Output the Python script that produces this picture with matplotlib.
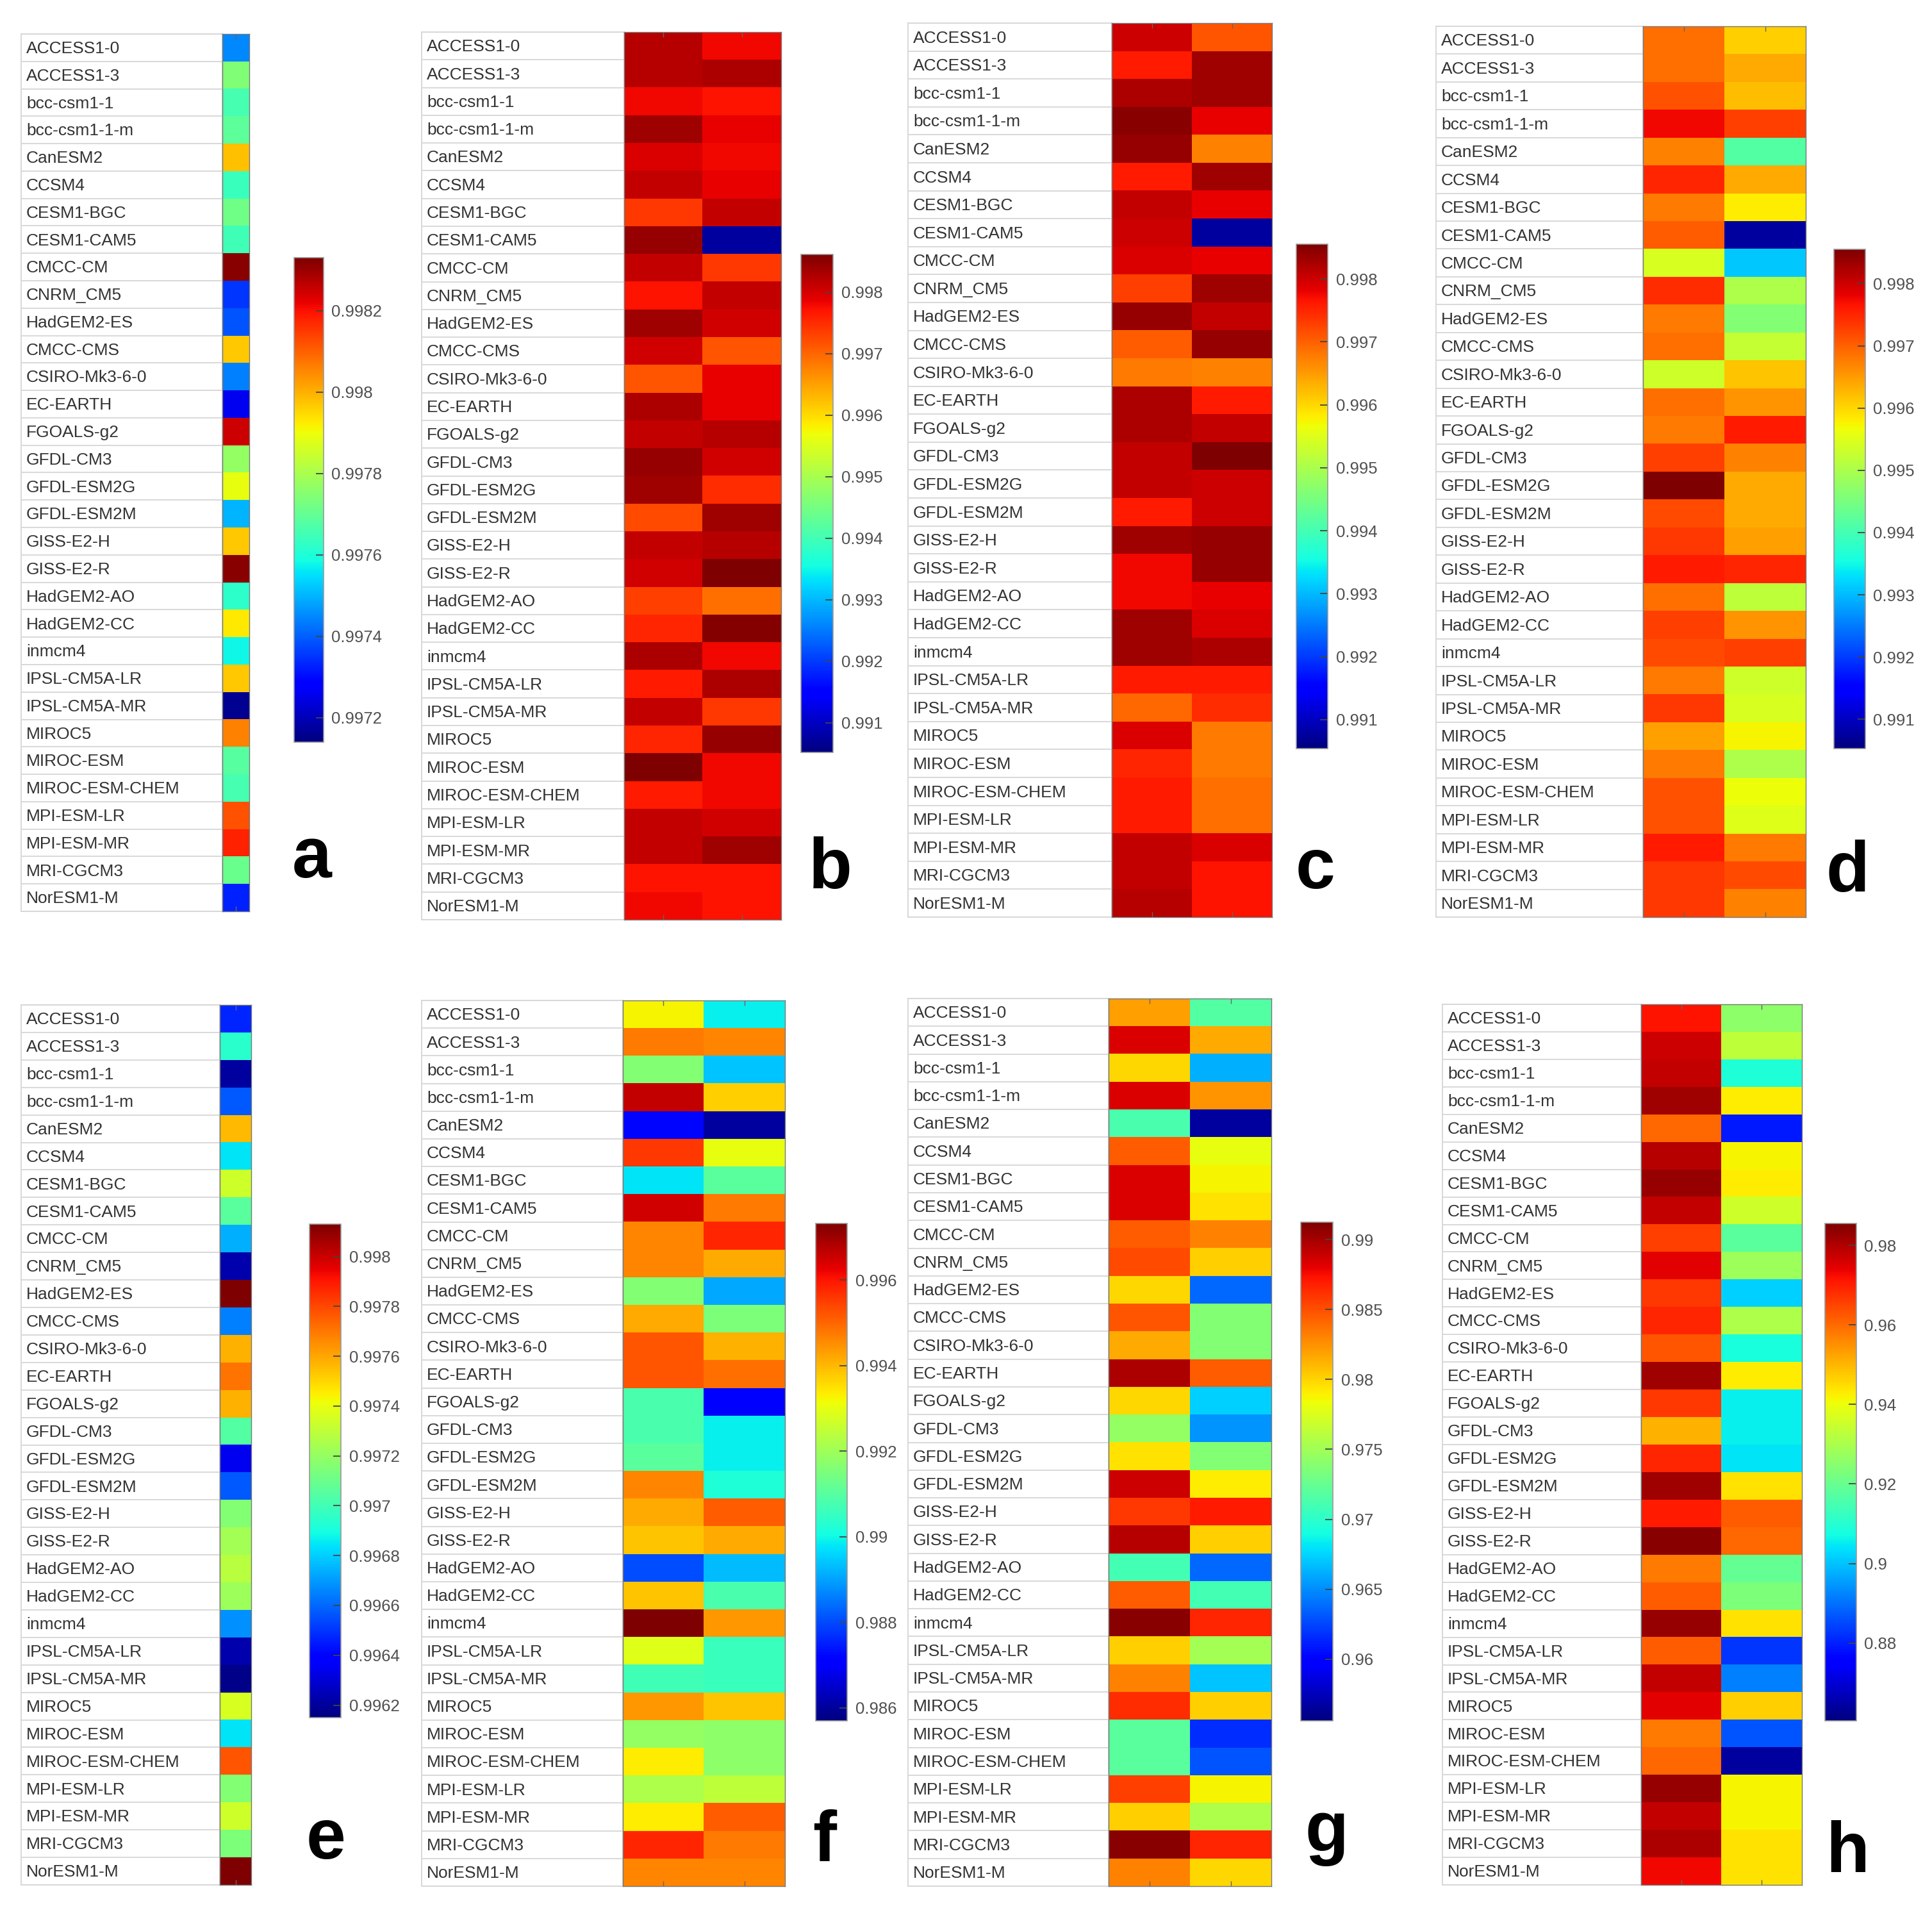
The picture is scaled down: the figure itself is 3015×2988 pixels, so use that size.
import numpy as np
import matplotlib.pyplot as plt

plt.rcParams['font.family'] = ['Liberation Sans', 'DejaVu Sans']

W, H = 3015, 2988

models = ["ACCESS1-0", "ACCESS1-3", "bcc-csm1-1", "bcc-csm1-1-m", "CanESM2", "CCSM4",
          "CESM1-BGC", "CESM1-CAM5", "CMCC-CM", "CNRM_CM5", "HadGEM2-ES", "CMCC-CMS",
          "CSIRO-Mk3-6-0", "EC-EARTH", "FGOALS-g2", "GFDL-CM3", "GFDL-ESM2G", "GFDL-ESM2M",
          "GISS-E2-H", "GISS-E2-R", "HadGEM2-AO", "HadGEM2-CC", "inmcm4", "IPSL-CM5A-LR",
          "IPSL-CM5A-MR", "MIROC5", "MIROC-ESM", "MIROC-ESM-CHEM", "MPI-ESM-LR", "MPI-ESM-MR",
          "MRI-CGCM3", "NorESM1-M"]

panel_a = [0.99745, 0.99774, 0.99766, 0.99769, 0.99798, 0.99764, 0.99772, 0.99765,
           0.99832, 0.99735, 0.99739, 0.99797, 0.99744, 0.99726, 0.99825, 0.99777,
           0.99789, 0.99750, 0.99797, 0.99832, 0.99762, 0.99793, 0.99758, 0.99797,
           0.99716, 0.99806, 0.99768, 0.99766, 0.99812, 0.99818, 0.99771, 0.99733]

panel_b_left = [0.99821, 0.99821, 0.99780, 0.99837, 0.99796, 0.99812, 0.99740, 0.99845,
                0.99812, 0.99772, 0.99837, 0.99804, 0.99715, 0.99829, 0.99812, 0.99845,
                0.99837, 0.99723, 0.99812, 0.99804, 0.99732, 0.99756, 0.99829, 0.99764,
                0.99812, 0.99756, 0.99861, 0.99764, 0.99812, 0.99812, 0.99772, 0.99780]
panel_b_right = [0.99780, 0.99829, 0.99772, 0.99788, 0.99780, 0.99788, 0.99812, 0.99076,
                 0.99740, 0.99812, 0.99804, 0.99715, 0.99788, 0.99788, 0.99821, 0.99804,
                 0.99748, 0.99837, 0.99821, 0.99861, 0.99691, 0.99857, 0.99780, 0.99829,
                 0.99740, 0.99845, 0.99780, 0.99780, 0.99804, 0.99837, 0.99772, 0.99772]

panel_c_left = [0.99799, 0.99759, 0.99823, 0.99847, 0.99839, 0.99759, 0.99807, 0.99799,
                0.99791, 0.99727, 0.99839, 0.99703, 0.99679, 0.99823, 0.99823, 0.99807,
                0.99807, 0.99759, 0.99831, 0.99775, 0.99775, 0.99831, 0.99831, 0.99759,
                0.99695, 0.99791, 0.99751, 0.99759, 0.99759, 0.99807, 0.99807, 0.99815]
panel_c_right = [0.99711, 0.99831, 0.99831, 0.99783, 0.99671, 0.99831, 0.99783, 0.99078,
                 0.99783, 0.99831, 0.99807, 0.99839, 0.99671, 0.99759, 0.99807, 0.99855,
                 0.99799, 0.99799, 0.99839, 0.99839, 0.99783, 0.99791, 0.99823, 0.99759,
                 0.99743, 0.99679, 0.99679, 0.99687, 0.99687, 0.99791, 0.99767, 0.99767]

panel_d_left = [0.99687, 0.99687, 0.99711, 0.99775, 0.99671, 0.99751, 0.99679, 0.99703,
                0.99542, 0.99743, 0.99679, 0.99687, 0.99534, 0.99687, 0.99679, 0.99727,
                0.99855, 0.99719, 0.99735, 0.99759, 0.99687, 0.99727, 0.99719, 0.99679,
                0.99735, 0.99646, 0.99679, 0.99711, 0.99711, 0.99759, 0.99735, 0.99735]
panel_d_right = [0.99606, 0.99638, 0.99622, 0.99727, 0.99414, 0.99638, 0.99582, 0.99077,
                 0.99310, 0.99502, 0.99462, 0.99526, 0.99614, 0.99655, 0.99759, 0.99671,
                 0.99638, 0.99638, 0.99646, 0.99751, 0.99518, 0.99655, 0.99727, 0.99534,
                 0.99542, 0.99574, 0.99502, 0.99566, 0.99550, 0.99679, 0.99719, 0.99671]

panel_e = [0.99647, 0.99694, 0.99621, 0.99657, 0.99756, 0.99684, 0.99734, 0.99706,
           0.99674, 0.99623, 0.99813, 0.99665, 0.99758, 0.99771, 0.99758, 0.99704,
           0.99635, 0.99657, 0.99716, 0.99724, 0.99728, 0.99722, 0.99668, 0.99623,
           0.99617, 0.99736, 0.99684, 0.99777, 0.99716, 0.99734, 0.99714, 0.99813]

panel_f_left = [0.99325, 0.99476, 0.99162, 0.99662, 0.98721, 0.99557, 0.98977, 0.99650,
                0.99464, 0.99464, 0.99162, 0.99418, 0.99522, 0.99522, 0.99081, 0.99081,
                0.99104, 0.99464, 0.99418, 0.99383, 0.98802, 0.99383, 0.99732, 0.99290,
                0.99069, 0.99441, 0.99186, 0.99337, 0.99220, 0.99337, 0.99581, 0.99464]
panel_f_right = [0.98988, 0.99464, 0.98942, 0.99371, 0.98605, 0.99302, 0.99104, 0.99476,
                 0.99581, 0.99418, 0.98907, 0.99151, 0.99406, 0.99488, 0.98698, 0.98988,
                 0.98988, 0.99023, 0.99511, 0.99418, 0.98930, 0.99081, 0.99441, 0.99058,
                 0.99058, 0.99383, 0.99174, 0.99174, 0.99244, 0.99511, 0.99476, 0.99464]

panel_g_left = [0.98197, 0.98839, 0.97983, 0.98839, 0.97128, 0.98447, 0.98839, 0.98839,
                0.98447, 0.98518, 0.97983, 0.98482, 0.98161, 0.98981, 0.97983, 0.97448,
                0.97948, 0.98874, 0.98589, 0.98946, 0.97092, 0.98447, 0.99088, 0.98019,
                0.98304, 0.98625, 0.97199, 0.97199, 0.98554, 0.98019, 0.99088, 0.98304]
panel_g_right = [0.97163, 0.98161, 0.96629, 0.98233, 0.95666, 0.97805, 0.97876, 0.97948,
                 0.98304, 0.98019, 0.96379, 0.97377, 0.97377, 0.98447, 0.96735, 0.96522,
                 0.97377, 0.97912, 0.98696, 0.98019, 0.96379, 0.97092, 0.98661, 0.97520,
                 0.96700, 0.98019, 0.96165, 0.96308, 0.97876, 0.97555, 0.98661, 0.97983]

panel_h_left = [0.9718, 0.9768, 0.9780, 0.9818, 0.9605, 0.9793, 0.9830, 0.9780,
                0.9655, 0.9743, 0.9668, 0.9693, 0.9630, 0.9818, 0.9668, 0.9505,
                0.9693, 0.9818, 0.9705, 0.9843, 0.9580, 0.9618, 0.9830, 0.9618,
                0.9780, 0.9743, 0.9580, 0.9605, 0.9830, 0.9780, 0.9805, 0.9730]
panel_h_right = [0.9255, 0.9330, 0.9092, 0.9430, 0.8792, 0.9417, 0.9430, 0.9355,
                 0.9180, 0.9280, 0.9017, 0.9305, 0.9080, 0.9430, 0.9055, 0.9055,
                 0.9042, 0.9442, 0.9618, 0.9605, 0.9192, 0.9230, 0.9442, 0.8829,
                 0.8917, 0.9467, 0.8867, 0.8642, 0.9417, 0.9417, 0.9442, 0.9442]

# colour limits and colorbar ticks
clims = {
    'a': (0.99714, 0.99833), 'b': (0.99052, 0.99861), 'c': (0.99054, 0.99855),
    'd': (0.99053, 0.99855), 'e': (0.99615, 0.99813), 'f': (0.98570, 0.99732),
    'g': (0.95559, 0.99124), 'h': (0.86043, 0.98551),
}
ticks_a = [0.9972, 0.9974, 0.9976, 0.9978, 0.998, 0.9982]
ticks_bcd = [0.991, 0.992, 0.993, 0.994, 0.995, 0.996, 0.997, 0.998]
ticks_e = [0.9962, 0.9964, 0.9966, 0.9968, 0.997, 0.9972, 0.9974, 0.9976, 0.9978, 0.998]
ticks_f = [0.986, 0.988, 0.99, 0.992, 0.994, 0.996]
ticks_g = [0.96, 0.965, 0.97, 0.975, 0.98, 0.985, 0.99]
ticks_h = [0.88, 0.9, 0.92, 0.94, 0.96, 0.98]

# pixel layout: label left, heat left, heat right, top, bottom, colorbar box, letter position
layout = {
    'a': (33, 347, 389, 53, 1422, (459, 402, 505, 1158), (487, 1369)),
    'b': (658, 974, 1219, 50, 1435, (1250, 397, 1300, 1174), (1296, 1386)),
    'c': (1417, 1735, 1985, 36, 1431, (2023, 381, 2072, 1168), (2053, 1386)),
    'd': (2241, 2564, 2818, 41, 1431, (2862, 389, 2911, 1168), (2883, 1391)),
    'e': (33, 343, 392, 1568, 2941, (483, 1910, 532, 2680), (509, 2900)),
    'f': (658, 972, 1225, 1561, 2943, (1273, 1909, 1322, 2685), (1287, 2903)),
    'g': (1417, 1730, 1984, 1558, 2943, (2030, 1907, 2080, 2685), (2070, 2889)),
    'h': (2251, 2561, 2812, 1567, 2941, (2848, 1909, 2897, 2685), (2883, 2921)),
}


def px_axes(fig, x0, y0, x1, y1):
    return fig.add_axes([x0 / W, 1 - y1 / H, (x1 - x0) / W, (y1 - y0) / H])


def draw_panel(fig, letter, columns, ticks):
    lab_x0, heat_x0, heat_x1, top, bottom, cbox, lpos = layout[letter]
    vmin, vmax = clims[letter]
    data = np.column_stack(columns)
    n = len(models)

    # the name table on the left
    lab = px_axes(fig, lab_x0, top, heat_x0, bottom)
    lab.set_xlim(0, 1)
    lab.set_ylim(n - 0.5, -0.5)
    for k in range(n + 1):
        lab.axhline(k - 0.5, color='#d6d6d6', lw=1.3)
    pad = 8 / (heat_x0 - lab_x0)
    for i, name in enumerate(models):
        lab.text(pad, i + 0.04, name, ha='left', va='center', fontsize=19, color='#333333')
    lab.set_xticks([])
    lab.set_yticks([])
    for s in lab.spines.values():
        s.set_color('#d6d6d6')
        s.set_linewidth(1.3)

    # the heat map
    ax = px_axes(fig, heat_x0, top, heat_x1, bottom)
    im = ax.imshow(data, cmap='jet', vmin=vmin, vmax=vmax, aspect='auto',
                   interpolation='nearest')
    ax.set_xticks(range(data.shape[1]))
    ax.set_xticklabels([])
    ax.set_yticks([])
    ax.tick_params(axis='x', direction='in', top=True, bottom=True, length=6,
                   width=1, color='#666666')
    for s in ax.spines.values():
        s.set_color('#777777')
        s.set_linewidth(1)

    # colorbar
    cax = px_axes(fig, *cbox)
    cb = fig.colorbar(im, cax=cax)
    cb.set_ticks(ticks)
    cb.set_ticklabels([f'{t:g}' for t in ticks])
    cax.tick_params(direction='in', length=9, width=1.3, color='#444444',
                    labelsize=18.5, labelcolor='#505050', pad=9)
    cb.outline.set_edgecolor('#999999')
    cb.outline.set_linewidth(1.2)

    fig.text(lpos[0] / W, 1 - lpos[1] / H, letter, fontsize=80, fontweight='bold',
             ha='center', va='baseline', color='black')


fig = plt.figure(figsize=(W / 100, H / 100), dpi=100)
fig.patch.set_facecolor('white')

draw_panel(fig, 'a', [panel_a], ticks_a)
draw_panel(fig, 'b', [panel_b_left, panel_b_right], ticks_bcd)
draw_panel(fig, 'c', [panel_c_left, panel_c_right], ticks_bcd)
draw_panel(fig, 'd', [panel_d_left, panel_d_right], ticks_bcd)
draw_panel(fig, 'e', [panel_e], ticks_e)
draw_panel(fig, 'f', [panel_f_left, panel_f_right], ticks_f)
draw_panel(fig, 'g', [panel_g_left, panel_g_right], ticks_g)
draw_panel(fig, 'h', [panel_h_left, panel_h_right], ticks_h)

fig.savefig('out.png', dpi=100)
